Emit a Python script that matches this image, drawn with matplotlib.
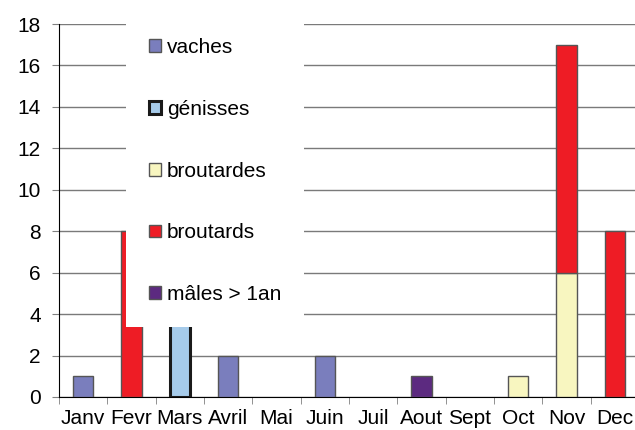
import numpy as np
import matplotlib.pyplot as plt
from matplotlib.patches import Patch

plt.rcParams['font.family'] = ['Liberation Sans', 'DejaVu Sans']

# --- Data ---
months = ["Janv", "Fevr", "Mars", "Avril", "Mai", "Juin",
          "Juil", "Aout", "Sept", "Oct", "Nov", "Dec"]
vaches     = [1, 0, 0, 2, 0, 2, 0, 0, 0, 0, 0, 0]
genisses   = [0, 0, 4, 0, 0, 0, 0, 0, 0, 0, 0, 0]
broutardes = [0, 0, 0, 0, 0, 0, 0, 0, 0, 1, 6, 0]
broutards  = [0, 8, 0, 0, 0, 0, 0, 0, 0, 0, 11, 8]
males      = [0, 0, 0, 0, 0, 0, 0, 1, 0, 0, 0, 0]

series = [
    ("vaches", vaches, "#7a7ebd", "#555555", 1.0),
    ("génisses", genisses, "#a6cbea", "#1a1a1a", 2.2),
    ("broutardes", broutardes, "#f8f6c0", "#555555", 1.0),
    ("broutards", broutards, "#ee1c25", "#555555", 1.0),
    ("mâles > 1an", males, "#5c2a80", "#555555", 1.0),
]

FS = 15

fig = plt.figure(figsize=(6.35, 4.30), dpi=100)
ax = fig.add_axes([59 / 635, 33 / 430, 580 / 635, 373 / 430])

# stacked bars, one series on top of the other
x = np.arange(len(months))
bottom = np.zeros(len(months))
handles = []
for label, vals, color, edge, lw in series:
    vals = np.array(vals, dtype=float)
    mask = vals > 0
    ax.bar(x[mask], vals[mask], width=0.42, bottom=bottom[mask],
           color=color, edgecolor=edge, linewidth=lw, zorder=3)
    bottom += vals
    handles.append(Patch(facecolor=color, edgecolor=edge, linewidth=lw, label=label))

ax.set_xlim(-0.5, len(months) - 0.5)
ax.set_ylim(0, 18)
ax.set_yticks(np.arange(0, 19, 2))
ax.yaxis.grid(True, color="#7a7a7a", linewidth=1.0, zorder=0)
ax.set_axisbelow(True)

for s in ["top", "right"]:
    ax.spines[s].set_visible(False)
ax.spines["left"].set_color("black")
ax.spines["bottom"].set_color("black")

# labels at category centres, tick marks between categories
ax.set_xticks(x)
ax.set_xticklabels(months, fontsize=FS)
ax.tick_params(axis="x", which="major", length=0, pad=9)
ax.set_xticks(np.arange(-0.5, len(months), 1), minor=True)
ax.tick_params(axis="x", which="minor", length=5, color="#808080")
ax.tick_params(axis="y", labelsize=FS, length=5, color="#808080", pad=8)

# opaque legend box sitting over the plot area
leg = ax.legend(handles=handles, loc="lower left",
                bbox_to_anchor=((126 - 59) / 580, 3.4 / 18),
                bbox_transform=ax.transAxes, frameon=True, fancybox=False,
                fontsize=FS, labelspacing=2.05, handlelength=0.58,
                handleheight=0.58, handletextpad=0.3, borderpad=1.08,
                borderaxespad=0)
leg.get_frame().set_facecolor("white")
leg.get_frame().set_edgecolor("none")
leg.get_frame().set_alpha(1.0)
leg.set_zorder(5)

fig.savefig("out.png", dpi=100)
